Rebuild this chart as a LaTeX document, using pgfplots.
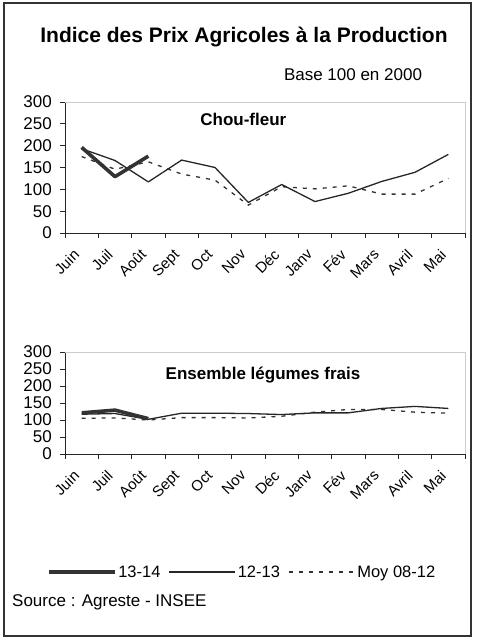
\documentclass[border=0pt]{standalone}
\usepackage{pgfplots}
\pgfplotsset{compat=1.18}
\usepackage{fontspec}
\setmainfont{Liberation Sans}

\pgfplotsset{
 mystyle/.style={
  scale only axis, width=400pt,
  xmin=-0.5, xmax=11.5, ymin=0, ymax=300,
  axis x line*=bottom, axis y line*=left,
  axis line style={black!85, line width=0.8pt},
  ytick={0,50,...,300},
  xtick={-0.5,0.5,...,11.5},
  x tick label as interval,
  xticklabels={Juin,Juil,Août,Sept,Oct,Nov,Déc,Janv,Fév,Mars,Avril,Mai},
  tick align=outside, major tick length=5pt,
  tick style={black!85, line width=0.8pt},
  xticklabel style={xshift=-9pt, yshift=-10pt, rotate=45, anchor=north east, inner sep=0pt, font=\fontsize{15}{15}\selectfont},
  yticklabel style={font=\fontsize{17}{17}\selectfont, inner sep=0pt, xshift=-8pt},
  /pgf/number format/assume math mode=true,
  clip=false,
  legend image code/.code={\draw[##1] (0pt,0pt) -- (66pt,0pt);},
 },
 thickst/.style={black!80, line width=3.6pt, line join=round},
 thinst/.style={black!85, line width=1.3pt, line join=round},
 dashst/.style={black!80, line width=1.3pt, dash pattern=on 4pt off 6pt},
}

\begin{document}
\begin{tikzpicture}
\path (0,0) rectangle (476pt,639pt);
\draw[line width=1.2pt, black!80] (4pt,3pt) rectangle (471pt,636pt);
\node[font=\bfseries\fontsize{21}{21}\selectfont] at (244pt,602pt) {Indice des Prix Agricoles à la Production};
\node[font=\fontsize{17}{17}\selectfont] at (353pt,564pt) {Base 100 en 2000};
\node[font=\fontsize{17}{17}\selectfont, anchor=west, inner sep=0pt] at (12pt,37pt) {Source : Agreste - INSEE};

\begin{axis}[mystyle, height=131pt, at={(65pt,406pt)}, anchor=south west]
\draw[gray!40, line width=0.8pt] (rel axis cs:0,1) -- (rel axis cs:1,1) -- (rel axis cs:1,0);
\node[font=\bfseries\fontsize{17}{17}\selectfont] at (axis cs:4.85,259) {Chou-fleur};
\addplot[dashst] coordinates {(0,175)(1,146)(2,163)(3,135)(4,121)(5,64)(6,106)(7,101)(8,108)(9,89)(10,89)(11,125)};
\addplot[thinst] coordinates {(0,193)(1,166)(2,117)(3,167)(4,150)(5,70)(6,111)(7,72)(8,91)(9,118)(10,139)(11,180)};
\addplot[thickst] coordinates {(0,196)(1,129)(2,176)};
\end{axis}

\begin{axis}[mystyle, height=102pt, at={(65pt,185pt)}, anchor=south west,
  reverse legend,
  legend style={draw=none, fill=none, legend columns=3, at={(axis description cs:0.4425,-1.157)}, anchor=center,
    font=\fontsize{16.5}{16.5}\selectfont,
    nodes={inner xsep=2pt},
    /tikz/every odd column/.append style={column sep=0pt},
    /tikz/every even column/.append style={column sep=6pt}},
  legend cell align=left]
\draw[gray!40, line width=0.8pt] (rel axis cs:0,1) -- (rel axis cs:1,1) -- (rel axis cs:1,0);
\node[font=\bfseries\fontsize{17}{17}\selectfont] at (axis cs:5.44,232) {Ensemble légumes frais};
\addplot[dashst] coordinates {(0,105)(1,106)(2,100)(3,107)(4,107)(5,106)(6,111)(7,123)(8,131)(9,131)(10,123)(11,120)};
\addlegendentry{Moy 08-12}
\addplot[thinst] coordinates {(0,117)(1,119)(2,102)(3,120)(4,120)(5,119)(6,116)(7,121)(8,121)(9,134)(10,140)(11,134)};
\addlegendentry{12-13}
\addplot[thickst] coordinates {(0,121)(1,129)(2,104)};
\addlegendentry{13-14}
\end{axis}
\end{tikzpicture}
\end{document}
